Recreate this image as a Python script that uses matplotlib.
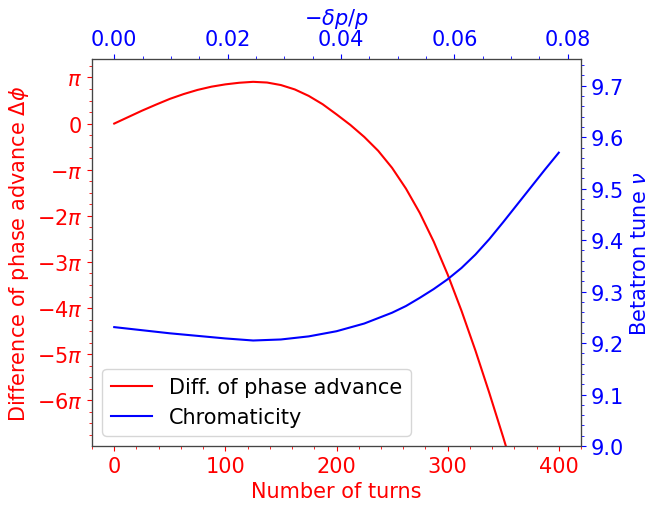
"""
Phase advance difference and betatron tune against number of turns.
"""
import numpy as np
import matplotlib.pyplot as plt
from matplotlib.ticker import MultipleLocator, FuncFormatter

plt.rcParams['font.size'] = 15

# phase advance difference (in units of pi) vs turn number
turns_phase = [0, 12.5, 25, 37.5, 50, 62.5, 75, 87.5, 100, 112.5, 125, 137.5, 150,
               162.5, 175, 187.5, 200, 212.5, 225, 237.5, 250, 262.5, 275, 287.5,
               300, 312.5, 325, 337.5, 350, 362.5]
dphi_over_pi = [0, 0.14, 0.28, 0.41, 0.535, 0.64, 0.73, 0.80, 0.85, 0.885, 0.905, 0.89,
                0.835, 0.74, 0.60, 0.42, 0.20, -0.03, -0.29, -0.59, -0.96, -1.41, -1.94,
                -2.56, -3.27, -4.06, -4.92, -5.84, -6.80, -7.8]

# betatron tune vs turn number
turns_tune = [0, 25, 50, 75, 100, 125, 150, 175, 200, 225, 250, 262.5, 275, 287.5,
              300, 312.5, 325, 337.5, 350, 362.5, 375, 387.5, 400]
tune = [9.231, 9.225, 9.219, 9.214, 9.209, 9.205, 9.207, 9.213, 9.223, 9.238, 9.259,
        9.272, 9.288, 9.305, 9.324, 9.346, 9.372, 9.402, 9.435, 9.469, 9.503, 9.537,
        9.570]

# momentum deviation range covered over the turns
dp_range = [0.0, 0.0784]

dphi = np.array(dphi_over_pi) * np.pi


def pi_fmt(v, pos):
    n = int(round(v / np.pi))
    if n == 0:
        return '0'
    if n == 1:
        return r'$\pi$'
    if n == -1:
        return r'$-\pi$'
    return r'$%d\pi$' % n


fig = plt.figure(figsize=(6.45, 5.06), dpi=100)
ax = fig.add_axes([92 / 645, 59 / 506, 489 / 645, 387 / 506])
ax2 = ax.twinx()
ax3 = ax.twiny()

l1, = ax.plot(turns_phase, dphi, color='red', lw=1.5, label='Diff. of phase advance')
l2, = ax2.plot(turns_tune, tune, color='blue', lw=1.5, label='Chromaticity')

ax.set_xlim(-20, 420)
ax.set_ylim(-6.99 * np.pi, 1.4 * np.pi)
ax.yaxis.set_major_locator(MultipleLocator(np.pi))
ax.yaxis.set_minor_locator(MultipleLocator(np.pi / 4))
ax.yaxis.set_major_formatter(FuncFormatter(pi_fmt))
ax.xaxis.set_major_locator(MultipleLocator(100))
ax.xaxis.set_minor_locator(MultipleLocator(20))
ax.set_xlabel('Number of turns', color='red')
ax.set_ylabel(r'Difference of phase advance $\Delta\phi$', color='red')
ax.tick_params(axis='both', which='both', colors='red')

ax2.set_ylim(9.0, 9.752)
ax2.yaxis.set_major_locator(MultipleLocator(0.1))
ax2.yaxis.set_minor_locator(MultipleLocator(0.02))
ax2.set_ylabel(r'Betatron tune $\nu$', color='blue')
ax2.tick_params(axis='y', which='both', colors='blue')

span = dp_range[1] - dp_range[0]
ax3.set_xlim(dp_range[0] - 0.05 * span, dp_range[1] + 0.05 * span)
ax3.xaxis.set_major_locator(MultipleLocator(0.02))
ax3.xaxis.set_minor_locator(MultipleLocator(0.005))
ax3.xaxis.set_major_formatter(FuncFormatter(lambda v, p: '%.2f' % v))
ax3.set_xlabel(r'$-\delta p/p$', color='blue')
ax3.tick_params(axis='x', which='both', colors='blue')

for a in (ax, ax2, ax3):
    for s in a.spines.values():
        s.set_color('#444444')

ax.legend(handles=[l1, l2], loc='lower left')

plt.savefig('out.png', dpi=100)
